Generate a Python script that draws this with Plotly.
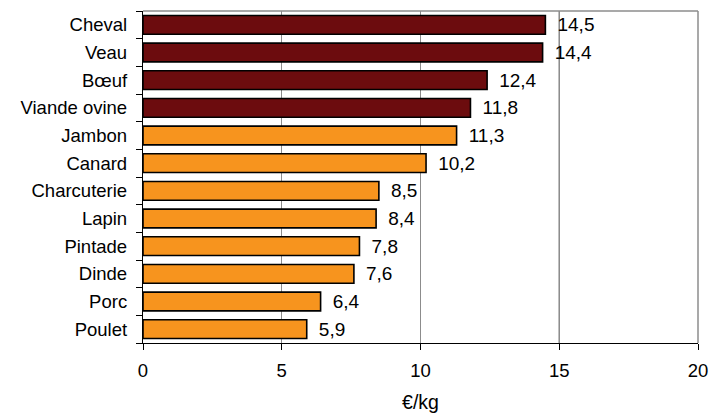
import plotly.graph_objects as go

# Prix moyen de la viande au kilo
categories = ["Cheval", "Veau", "Bœuf", "Viande ovine", "Jambon", "Canard",
              "Charcuterie", "Lapin", "Pintade", "Dinde", "Porc", "Poulet"]
values = [14.5, 14.4, 12.4, 11.8, 11.3, 10.2, 8.5, 8.4, 7.8, 7.6, 6.4, 5.9]
groups = ["rouge"] * 4 + ["blanche"] * 8
x_ticks = [0, 5, 10, 15, 20]
highlight_x = 15

palette = {"rouge": "#6C0C0E", "blanche": "#F7941E"}
colors = [palette[g] for g in groups]
labels = ["\u00a0\u2009" + f"{v:.1f}".replace(".", ",") for v in values]

FONT = "Liberation Sans, Arial, sans-serif"

fig = go.Figure(go.Bar(
    y=categories,
    x=values,
    orientation="h",
    marker=dict(color=colors, line=dict(color="black", width=1.6)),
    text=labels,
    textposition="outside",
    constraintext="none",
    textfont=dict(family=FONT, size=19, color="black"),
    cliponaxis=False,
    width=0.68,
))

fig.add_shape(type="line", x0=highlight_x, x1=highlight_x, y0=0, y1=1,
              xref="x", yref="paper", line=dict(color="black", width=1),
              layer="below")

fig.update_layout(
    width=710, height=416,
    margin=dict(l=143, r=12, t=11, b=73),
    paper_bgcolor="white",
    plot_bgcolor="white",
    showlegend=False,
    font=dict(family=FONT, size=18, color="black"),
    xaxis=dict(
        range=[0, 20],
        tickvals=x_ticks,
        ticktext=[str(t) for t in x_ticks],
        showgrid=True, gridcolor="#8C8C8C", gridwidth=1,
        zeroline=False,
        showline=True, linecolor="black", linewidth=1.3,
        ticks="outside", ticklen=6, tickcolor="black",
        ticklabelstandoff=5,
        tickfont=dict(size=18.5),
        title=dict(text="€/kg", font=dict(size=19.5), standoff=15),
        automargin=False,
    ),
    yaxis=dict(
        categoryorder="array",
        categoryarray=categories[::-1],
        showline=True, linecolor="black", linewidth=1.3,
        ticks="outside", ticklen=6, tickcolor="black",
        tickson="boundaries",
        ticklabelstandoff=11,
        tickfont=dict(size=18.5),
        showgrid=False,
        automargin=False,
    ),
)

# Cadre gris en haut et à droite de la zone de tracé
fig.add_shape(type="line", x0=0, x1=1, y0=1, y1=1, xref="paper", yref="paper",
              line=dict(color="#8C8C8C", width=1.5))
fig.add_shape(type="line", x0=1, x1=1, y0=0, y1=1, xref="paper", yref="paper",
              line=dict(color="#8C8C8C", width=1.5))

fig.write_html("out.html")
